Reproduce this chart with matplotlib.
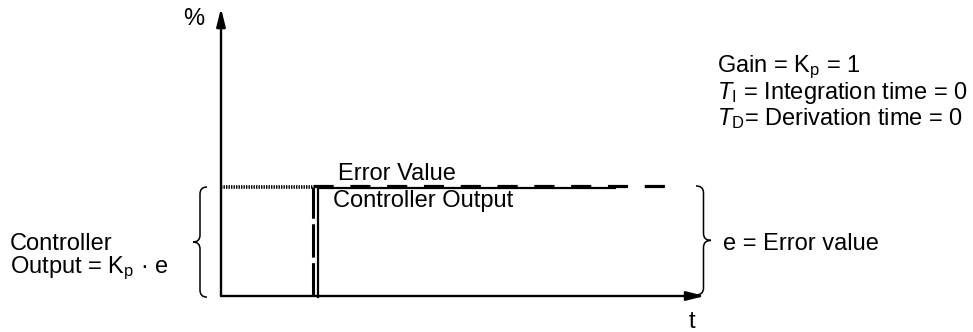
import matplotlib.pyplot as plt
from matplotlib.path import Path
from matplotlib.patches import PathPatch
from matplotlib.transforms import offset_copy

plt.rcParams['font.family'] = ['Liberation Sans', 'DejaVu Sans']
plt.rcParams['mathtext.fontset'] = 'custom'
plt.rcParams['mathtext.rm'] = 'Liberation Sans'
plt.rcParams['mathtext.it'] = 'Liberation Sans:italic'
plt.rcParams['lines.scale_dashes'] = False

# step of a pure P controller, Kp = 1 (t in arbitrary units, values in %)
ref_t = [0.0, 0.97]
ref_v = [100, 100]
err_t = [0.97, 0.97, 4.70]
err_v = [0, 100, 100]
out_t = [1.03, 1.03, 4.17]
out_v = [0, 100, 100]
t_max = 5.12
v_max = 264

W, H = 973, 332
X0, Y0 = 221, 296      # pixel of the origin
SX, SY = 94.5, 1.09    # pixels per unit t / per %

def tx(px):  # pixel x -> t
    return (px - X0) / SX

fig = plt.figure(figsize=(W / 100, H / 100), dpi=100)
ax = fig.add_axes([0, 0, 1, 1])
ax.set_xlim(tx(0), tx(W))
ax.set_ylim(-(H - Y0) / SY, Y0 / SY)
ax.axis('off')

# axes with arrows
arw = dict(arrowstyle='-|>,head_length=0.6,head_width=0.15', lw=1.7, color='k',
           mutation_scale=18, shrinkA=0, shrinkB=0)
ax.annotate('', xy=(0, v_max), xytext=(0, 0), arrowprops=arw)
ax.annotate('', xy=(t_max, 0), xytext=(0, 0), arrowprops=arw)

# hatched level before the step
ax.plot(ref_t, ref_v, color='k', lw=2.6, ls=(0, (1.0, 0.8)), solid_capstyle='butt')

# error value (dashed)
up = offset_copy(ax.transData, fig=fig, x=0, y=1.2, units='dots')
ax.plot(err_t[:2], err_v[:2], color='k', lw=2.2, ls=(0, (24, 4)))
ax.plot(err_t[1:], err_v[1:], color='k', lw=2.3, ls=(0, (14.5, 12)), transform=up)

# controller output (solid)
dn = offset_copy(ax.transData, fig=fig, x=0, y=-1, units='dots')
ax.plot(out_t, out_v, color='k', lw=1.6, transform=dn, solid_joinstyle='miter')


def brace(x_end, x_tip, y0, y1):
    xm = (x_end + x_tip) / 2
    r = 7 / SY
    ym = (y0 + y1) / 2
    verts = [(x_end, y1), (xm, y1), (xm, y1 - r),
             (xm, ym + r), (xm, ym), (x_tip, ym),
             (xm, ym), (xm, ym - r),
             (xm, y0 + r), (xm, y0), (x_end, y0)]
    codes = [Path.MOVETO, Path.CURVE3, Path.CURVE3, Path.LINETO,
             Path.CURVE3, Path.CURVE3, Path.CURVE3, Path.CURVE3,
             Path.LINETO, Path.CURVE3, Path.CURVE3]
    ax.add_patch(PathPatch(Path(verts, codes), fill=False, lw=1.1, color='k'))


brace(tx(207), tx(193), -1, 100)
brace(tx(696), tx(711), 1, 101)

fs = 17
def label(x, y, s):
    fig.text(x / W, 1 - y / H, s, fontsize=fs, va='baseline', ha='left')

label(183, 25, '%')
label(689, 328, 't')
label(338, 180, 'Error Value')
label(333, 207, 'Controller Output')
label(10, 250, 'Controller')
label(10, 273, 'Output = K$_\\mathrm{p}$ · e')
label(723, 250, 'e = Error value')
label(717, 72, 'Gain = K$_\\mathrm{p}$ = 1')
label(717, 99, '$T_\\mathrm{I}$ = Integration time = 0')
label(717, 125, '$T_\\mathrm{D}$= Derivation time = 0')

fig.savefig('out.png', dpi=100)
